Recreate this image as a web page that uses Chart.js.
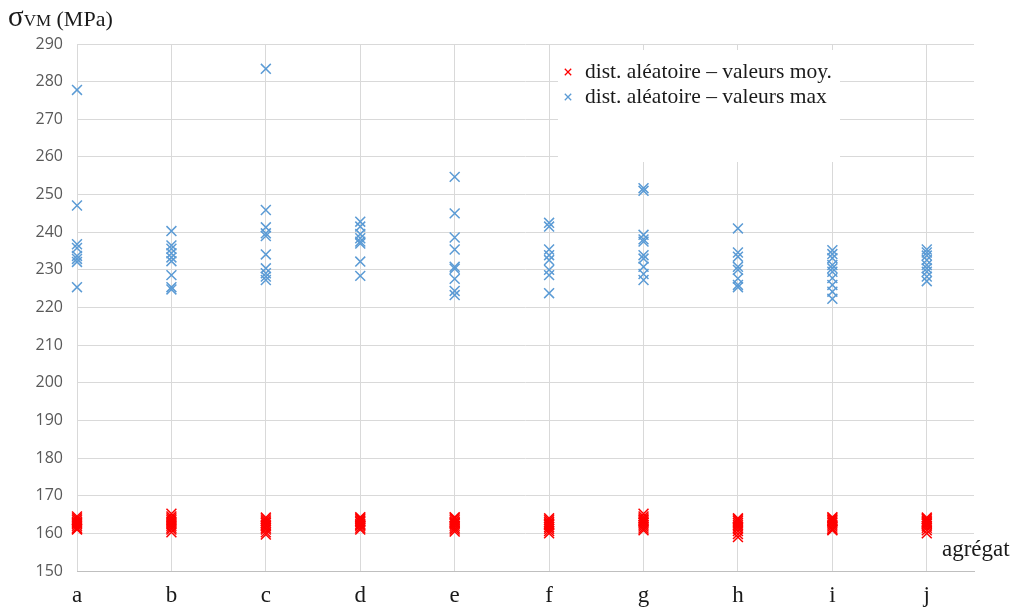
<!DOCTYPE html>
<html><head><meta charset="utf-8">
<script src="https://cdn.jsdelivr.net/npm/chart.js@4/dist/chart.umd.min.js"></script>
<style>html,body{margin:0;padding:0;background:#fff}#wrap{width:1016px;height:612px;position:relative}</style>
</head><body><div id="wrap"><canvas id="c" width="1016" height="612"></canvas></div>
<script>
const categories = ['a','b','c','d','e','f','g','h','i','j'];
const yTicks = [150,160,170,180,190,200,210,220,230,240,250,260,270,280,290];
const seriesLabels = ['dist. aléatoire – valeurs moy.', 'dist. aléatoire – valeurs max'];
const meanA = [161,161.5,162,162.5,163,163.5,164,164.5,161.2,162.8];
const meanB = [160.3,161,161.5,162,162.5,163,163.5,164,164.5,165.2];
const meanC = [159.7,160.3,161,161.5,162,162.3,162.8,163.2,163.7,164.2];
const meanD = [161,161.5,162,162.5,163,163.3,163.7,164,164.3,162.2];
const meanE = [160.5,161,161.5,162,162.5,163,163.5,164,164.3,162.8];
const meanF = [160,160.6,161.2,161.7,162.2,162.6,163,163.5,164,162.4];
const meanG = [160.8,161.3,161.8,162.3,162.8,163.2,163.6,164,164.5,165.2];
const meanH = [159,159.8,160.6,161.3,161.8,162.3,162.8,163.3,163.7,164];
const meanI = [160.8,161.3,161.8,162.3,162.8,163.2,163.6,164,164.3,161];
const meanJ = [160,160.8,161.5,162,162.5,163,163.4,163.8,164.2,162.7];
const maxA = [277.8,247.1,236.8,235.8,233.7,232.9,232.1,225.4];
const maxB = [240.3,236.5,235.6,234.4,233.3,232.3,228.6,225.4,224.8];
const maxC = [283.4,245.9,241.3,239.7,239.0,234.1,230.4,229.1,228.2,227.3];
const maxD = [242.8,241.5,239.5,238.4,237.5,237.0,232.2,228.4];
const maxE = [254.7,245.0,238.6,235.4,230.8,230.3,227.6,224.4,223.3];
const maxF = [242.5,241.5,235.4,233.9,232.6,230.0,228.6,223.8];
const maxG = [251.7,251.0,239.3,238.1,237.5,233.9,233.0,230.8,228.9,227.3];
const maxH = [241.0,234.6,233.5,230.8,230.0,227.7,226.0,225.4];
const maxI = [235.2,234.2,233.1,231.3,230.4,229.5,227.8,226.0,224.2,222.3];
const maxJ = [235.4,234.6,233.8,232.6,231.3,230.4,229.5,228.2,227.0];

const meanSeries = [meanA,meanB,meanC,meanD,meanE,meanF,meanG,meanH,meanI,meanJ];
const maxSeries = [maxA,maxB,maxC,maxD,maxE,maxF,maxG,maxH,maxI,maxJ];
const toPoints = arrs => arrs.flatMap((vals,i)=>vals.map(v=>({x:i,y:v})));

const RED = '#ff0000', BLUE = '#5b9bd5';
const SERIF = '"Liberation Serif", "DejaVu Serif", serif';

const overlay = {
  id:'overlay',
  beforeDatasetsDraw(chart){
    const ctx = chart.ctx;
    ctx.save();
    ctx.fillStyle = '#fff';
    ctx.fillRect(558,50,282,112);
    ctx.restore();
  },
  afterDraw(chart){
    const ctx = chart.ctx;
    ctx.save();
    const cols = [RED, BLUE];
    const ys = [72, 97];
    for (let k=0;k<2;k++){
      const cx = 568, cy = ys[k], r = 3.2;
      ctx.strokeStyle = cols[k]; ctx.lineWidth = 1.3;
      ctx.beginPath();
      ctx.moveTo(cx-r,cy-r); ctx.lineTo(cx+r,cy+r);
      ctx.moveTo(cx-r,cy+r); ctx.lineTo(cx+r,cy-r);
      ctx.stroke();
      ctx.fillStyle = '#1a1a1a';
      ctx.font = '21.5px ' + SERIF;
      ctx.textBaseline = 'middle'; ctx.textAlign = 'left';
      ctx.fillText(seriesLabels[k], 585, cy);
    }
    ctx.fillStyle = '#1a1a1a';
    ctx.textBaseline = 'alphabetic';
    ctx.font = '29px ' + SERIF;
    ctx.fillText('σ', 8, 26);
    let x = 8 + ctx.measureText('σ').width;
    ctx.font = '17px ' + SERIF;
    ctx.fillText('VM', x, 26);
    x += ctx.measureText('VM').width;
    ctx.font = '22px ' + SERIF;
    ctx.fillText(' (MPa)', x, 26);
    ctx.font = '23px ' + SERIF;
    ctx.textBaseline = 'middle';
    ctx.fillText('agrégat', 942, 550);
    ctx.restore();
  }
};

new Chart(document.getElementById('c'), {
  type:'scatter',
  data:{datasets:[
    {label:seriesLabels[1], data:toPoints(maxSeries), pointStyle:'crossRot', radius:7, hoverRadius:7, borderColor:BLUE, backgroundColor:BLUE, borderWidth:1.5, clip:false},
    {label:seriesLabels[0], data:toPoints(meanSeries), pointStyle:'crossRot', radius:7, hoverRadius:7, borderColor:RED, backgroundColor:RED, borderWidth:1.5, clip:false}
  ]},
  options:{
    responsive:false, animation:false,
    layout:{padding:{left:0,top:44,right:42,bottom:0}},
    plugins:{legend:{display:false}, tooltip:{enabled:false}},
    scales:{
      x:{type:'linear', min:0, max:9.5,
        afterBuildTicks(axis){ axis.ticks = categories.map((c,i)=>({value:i})); },
        afterFit(axis){ axis.height = 41; },
        grid:{color:'#d9d9d9', drawTicks:false, lineWidth:1},
        border:{color:'#bfbfbf', width:1},
        ticks:{padding:11, autoSkip:false, maxRotation:0, color:'#1a1a1a',
          font:{family:SERIF, size:23},
          callback:(v)=>categories[v] ?? ''}
      },
      y:{type:'linear', min:150, max:290,
        afterBuildTicks(axis){ axis.ticks = yTicks.map(v=>({value:v})); },
        afterFit(axis){ axis.width = 77; },
        grid:{color:'#d9d9d9', drawTicks:false, lineWidth:1},
        border:{display:false},
        ticks:{padding:14, color:'#595959', font:{family:'"Open Sans", sans-serif', size:16}}
      }
    }
  },
  plugins:[overlay]
});
</script></body></html>
